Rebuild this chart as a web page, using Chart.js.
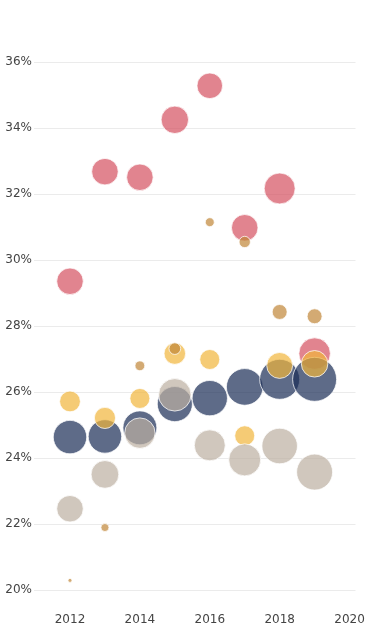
<!DOCTYPE html>
<html>
<head>
<meta charset="utf-8">
<script src="https://cdn.jsdelivr.net/npm/chart.js@4/dist/chart.umd.min.js"></script>
<style>
  html, body { margin: 0; padding: 0; background: #fff; }
  #wrap { width: 370px; height: 640px; }
</style>
</head>
<body>
<div id="wrap"><canvas id="bubbles" width="370" height="640"></canvas></div>
<script>
  // Years on the x axis, one bubble per year per series.
  var YEARS = [2012, 2013, 2014, 2015, 2016, 2017, 2018, 2019];
  var X_TICKS = [2012, 2014, 2016, 2018, 2020];
  var Y_TICKS = [20, 22, 24, 26, 28, 30, 32, 34, 36];

  // Share (%) per series.
  var RED_SHARE = [29.36, 32.68, 32.51, 34.25, 35.28, 30.98, 32.17, 27.17];
  var NAVY_SHARE = [24.64, 24.66, 24.92, 25.64, 25.82, 26.16, 26.39, 26.39];
  var YELLOW_SHARE = [25.72, 25.22, 25.81, 27.17, 26.99, 24.68, 26.81, 26.86];
  var BEIGE_SHARE = [22.47, 23.51, 24.76, 25.92, 24.39, 23.95, 24.37, 23.58];
  var TAN_SHARE = [20.30, 21.90, 26.80, 27.32, 31.15, 30.55, 28.43, 28.30];

  // Bubble weight per series (area-like, radius grows with sqrt).
  var RED_WEIGHT = [44, 44, 44, 47, 41, 44, 60, 62];
  var NAVY_WEIGHT = [70, 70, 72, 77, 78, 84, 100, 121];
  var YELLOW_WEIGHT = [27, 28, 25, 29, 25, 25, 42, 44];
  var BEIGE_WEIGHT = [44, 48, 58, 66, 60, 64, 79, 81];
  var TAN_WEIGHT = [1, 4, 6, 8.5, 5, 8, 14, 14];

  var FONT = "'DejaVu Sans', sans-serif";
  var GRID = "#ebebeb";
  var TICK = "#444444";

  function points(shares, weights) {
    return YEARS.map(function (yr, i) {
      return { x: yr, y: shares[i], r: Math.sqrt(weights[i]) * 2 };
    });
  }

  function series(shares, weights, fill, order) {
    return {
      data: points(shares, weights),
      backgroundColor: fill,
      borderColor: "rgba(255,255,255,0.75)",
      borderWidth: 1,
      hoverBorderWidth: 1,
      order: order
    };
  }

  // Lower order draws on top: tan > beige > yellow > navy > red.
  var datasets = [
    series(RED_SHARE, RED_WEIGHT, "rgba(212,80,95,0.7)", 4),
    series(NAVY_SHARE, NAVY_WEIGHT, "rgba(26,44,85,0.7)", 3),
    series(YELLOW_SHARE, YELLOW_WEIGHT, "rgba(241,181,59,0.7)", 2),
    series(BEIGE_SHARE, BEIGE_WEIGHT, "rgba(188,175,161,0.7)", 1),
    series(TAN_SHARE, TAN_WEIGHT, "rgba(192,134,55,0.7)", 0)
  ];

  // Keep the plot box fixed: drop the label overhang padding Chart.js adds.
  function noOverhang(axis) {
    axis.paddingTop = 0;
    axis.paddingBottom = 0;
    axis.paddingLeft = 0;
    axis.paddingRight = 0;
  }

  new Chart(document.getElementById("bubbles").getContext("2d"), {
    type: "bubble",
    data: { datasets: datasets },
    options: {
      responsive: false,
      animation: false,
      clip: false,
      layout: {
        autoPadding: false,
        padding: { left: 5, right: 14.5, top: 9.2, bottom: 12.5 }
      },
      plugins: { legend: { display: false }, tooltip: { enabled: false } },
      scales: {
        x: {
          type: "linear",
          min: 2010.97,
          max: 2020.17,
          grid: { display: false },
          border: { display: false },
          afterBuildTicks: function (axis) {
            axis.ticks = X_TICKS.map(function (v) { return { value: v }; });
          },
          afterFit: function (axis) { axis.height = 24; noOverhang(axis); },
          ticks: {
            color: TICK,
            padding: 1,
            maxRotation: 0,
            autoSkip: false,
            font: { family: FONT, size: 12 },
            callback: function (v) { return String(v); }
          }
        },
        y: {
          type: "linear",
          min: 19.6,
          max: 37.6,
          grid: { color: GRID, lineWidth: 1, drawTicks: false },
          border: { display: false },
          afterBuildTicks: function (axis) {
            axis.ticks = Y_TICKS.map(function (v) { return { value: v }; });
          },
          afterFit: function (axis) { axis.width = 29; noOverhang(axis); },
          ticks: {
            color: TICK,
            padding: 2,
            autoSkip: false,
            font: { family: FONT, size: 12 },
            callback: function (v) { return v + "%"; }
          }
        }
      }
    }
  });
</script>
</body>
</html>
